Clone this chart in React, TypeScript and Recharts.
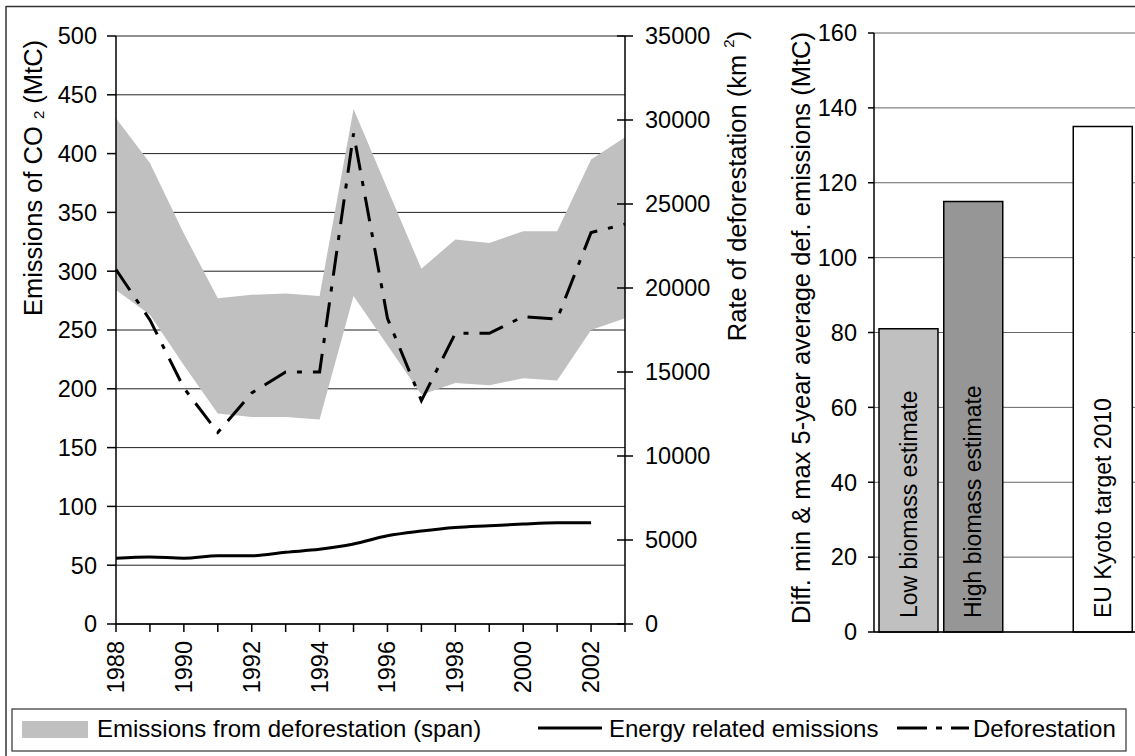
import React from 'react';
import {
  ComposedChart,
  BarChart,
  Area,
  Line,
  Bar,
  Cell,
  XAxis,
  YAxis,
  CartesianGrid,
  LabelList,
} from 'recharts';

const FONT = '"Liberation Sans", Arial, sans-serif';

// left panel: yearly series
const years = [1988, 1989, 1990, 1991, 1992, 1993, 1994, 1995, 1996, 1997, 1998, 1999, 2000, 2001, 2002, 2003];
const spanLow = [284, 263, 220, 179, 176, 176, 174, 279, 237, 195, 205, 203, 209, 207, 250, 260];
const spanHigh = [430, 392, 332, 277, 280, 281, 279, 438, 370, 302, 327, 324, 334, 334, 395, 414];
const energy = [56, 57, 56, 58, 58, 61, 63.5, 68, 75, 79, 82, 83.5, 85, 86, 86, null];
const deforestation = [21100, 18100, 14050, 11400, 13750, 15000, 15000, 29200, 18200, 13300, 17300, 17300, 18300, 18150, 23300, 23800];

const leftTicks = [0, 50, 100, 150, 200, 250, 300, 350, 400, 450, 500];
const rightTicks = [0, 5000, 10000, 15000, 20000, 25000, 30000, 35000];

// right panel: bars
const barNames = ['Low biomass estimate', 'High biomass estimate', '', 'EU Kyoto target 2010'];
const barValues = [81, 115, null, 135];
const barColors = ['#c0c0c0', '#969696', '#ffffff', '#ffffff'];
const barTicks = [0, 20, 40, 60, 80, 100, 120, 140, 160];

const lineData = years.map((year, i) => ({
  year,
  span: [spanLow[i], spanHigh[i]],
  energy: energy[i],
  deforestation: deforestation[i],
}));

const barData = barNames.map((name, i) => ({ name: name || 'gap', label: name, value: barValues[i] }));

const DASH_DOT = '25 11 5 11';

function YearTick({ x, y, payload }: any) {
  if (payload.value % 2 !== 0) return null;
  return (
    <text
      x={x}
      y={y}
      transform={`rotate(-90 ${x} ${y})`}
      textAnchor="end"
      dominantBaseline="central"
      fontSize={23.5}
      fontFamily={FONT}
      fill="#000"
    >
      {payload.value}
    </text>
  );
}

function RightTick({ x, y, payload }: any) {
  return (
    <g>
      <line x1={x - 28} x2={x - 20} y1={y} y2={y} stroke="#000" strokeWidth={1.5} />
      <text x={x} y={y} dominantBaseline="central" fontSize={23.5} fontFamily={FONT} fill="#000">
        {payload.value}
      </text>
    </g>
  );
}

function BarText(props: any) {
  const { x, y, width, height, value } = props;
  if (!value) return null;
  const cx = x + width / 2;
  const by = y + height - 14;
  return (
    <text
      x={cx}
      y={by}
      transform={`rotate(-90 ${cx} ${by})`}
      textAnchor="start"
      dominantBaseline="central"
      fontSize={23}
      fontFamily={FONT}
      fill="#000"
    >
      {value}
    </text>
  );
}

export default function App() {
  const tickStyle = { fill: '#000', fontSize: 23.5, fontFamily: FONT };
  const axisStroke = { stroke: '#000', strokeWidth: 1.5 };

  return (
    <div
      style={{
        position: 'absolute',
        left: 0,
        top: 0,
        width: 1135,
        height: 756,
        background: '#fff',
        overflow: 'hidden',
      }}
    >
      <div style={{ position: 'absolute', left: 0, top: 0 }}>
        <ComposedChart width={760} height={700} data={lineData} margin={{ top: 36, right: 0, bottom: 0, left: 0 }}>
          <CartesianGrid yAxisId="left" vertical={false} stroke="#222" strokeWidth={1} />
          <XAxis
            type="number"
            dataKey="year"
            domain={[1988, 2003]}
            ticks={years}
            interval={0}
            height={76}
            tickSize={8}
            tickMargin={9}
            tick={<YearTick />}
            axisLine={axisStroke}
            tickLine={axisStroke}
          />
          <YAxis
            yAxisId="left"
            domain={[0, 500]}
            ticks={leftTicks}
            interval={0}
            width={116}
            tickSize={9}
            tickMargin={10}
            tick={tickStyle}
            axisLine={axisStroke}
            tickLine={axisStroke}
          />
          <YAxis
            yAxisId="right"
            orientation="right"
            domain={[0, 35000]}
            ticks={rightTicks}
            interval={0}
            width={135}
            tickSize={8}
            tickMargin={12}
            tick={<RightTick />}
            axisLine={axisStroke}
            tickLine={axisStroke}
          />
          <Area
            yAxisId="left"
            type="linear"
            dataKey="span"
            fill="#c0c0c0"
            fillOpacity={1}
            stroke="none"
            isAnimationActive={false}
            activeDot={false}
          />
          <Line
            yAxisId="left"
            type="monotone"
            dataKey="energy"
            stroke="#000"
            strokeWidth={3}
            dot={false}
            activeDot={false}
            isAnimationActive={false}
          />
          <Line
            yAxisId="right"
            type="linear"
            dataKey="deforestation"
            stroke="#000"
            strokeWidth={3}
            strokeDasharray={DASH_DOT}
            dot={false}
            activeDot={false}
            isAnimationActive={false}
          />
        </ComposedChart>
      </div>

      <div style={{ position: 'absolute', left: 760, top: 0 }}>
        <BarChart width={375} height={700} data={barData} margin={{ top: 33, right: 0, bottom: 0, left: 0 }}>
          <CartesianGrid vertical={false} stroke="#666" strokeWidth={1} />
          <XAxis
            dataKey="name"
            height={68}
            tick={false}
            tickLine={false}
            axisLine={axisStroke}
            padding={{ left: 2, right: 0 }}
          />
          <YAxis
            domain={[0, 160]}
            ticks={barTicks}
            interval={0}
            width={114}
            tickSize={6}
            tickMargin={11}
            tick={tickStyle}
            axisLine={axisStroke}
            tickLine={axisStroke}
          />
          <Bar dataKey="value" barSize={59} stroke="#000" strokeWidth={1.5} isAnimationActive={false}>
            {barData.map((d, i) => (
              <Cell key={`bar-${i}`} fill={barColors[i]} />
            ))}
            <LabelList dataKey="label" content={<BarText />} />
          </Bar>
        </BarChart>
      </div>

      <svg
        width={1135}
        height={756}
        style={{ position: 'absolute', left: 0, top: 0, pointerEvents: 'none' }}
        fontFamily={FONT}
      >
        {/* outer frame, cropped on right and bottom */}
        <line x1={6} y1={6.5} x2={1135} y2={6.5} stroke="#333" strokeWidth={1.5} />
        <line x1={6} y1={6} x2={6} y2={756} stroke="#333" strokeWidth={1.5} />

        {/* axis titles */}
        <text
          x={33}
          y={178}
          transform="rotate(-90 33 178)"
          textAnchor="middle"
          dominantBaseline="central"
          fontSize={25.5}
          fill="#000"
        >
          Emissions of CO <tspan fontSize={15} dy={5}>2</tspan>
          <tspan dy={-5}> (MtC)</tspan>
        </text>
        <text
          x={737}
          y={186}
          transform="rotate(-90 737 186)"
          textAnchor="middle"
          dominantBaseline="central"
          fontSize={25.5}
          fill="#000"
        >
          Rate of deforestation (km <tspan fontSize={15} dy={-9}>2</tspan>
          <tspan dy={9}>)</tspan>
        </text>
        <text
          x={801}
          y={328}
          transform="rotate(-90 801 328)"
          textAnchor="middle"
          dominantBaseline="central"
          fontSize={25.5}
          fill="#000"
        >
          Diff. min &amp; max 5-year average def. emissions (MtC)
        </text>

        {/* legend */}
        <rect x={12} y={709} width={1114} height={42} fill="none" stroke="#333" strokeWidth={1.2} />
        <rect x={22} y={721} width={66} height={17} fill="#c0c0c0" />
        <text x={97} y={728} dominantBaseline="central" fontSize={24} fill="#000">
          Emissions from deforestation (span)
        </text>
        <line x1={538} y1={728} x2={602} y2={728} stroke="#000" strokeWidth={3} />
        <text x={609} y={728} dominantBaseline="central" fontSize={24} fill="#000">
          Energy related emissions
        </text>
        <line x1={897} y1={728} x2={969} y2={728} stroke="#000" strokeWidth={3} strokeDasharray="30 9 6 9" />
        <text x={973} y={728} dominantBaseline="central" fontSize={24} fill="#000">
          Deforestation
        </text>
      </svg>
    </div>
  );
}
